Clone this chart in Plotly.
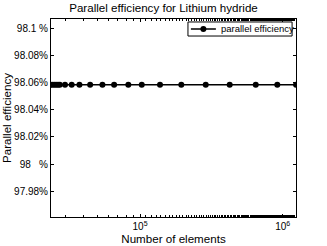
import plotly.graph_objects as go

# Data
num_elements = [23400, 24200, 25000, 25800, 26600, 27400, 29800, 33200, 37600, 44700,
                54500, 65800, 82800, 102800, 138000, 194600, 288600, 425000, 647000,
                916000, 1240000]
efficiency = [98.0585] * len(num_elements)
series_name = "parallel efficiency"

y_tick_vals = [97.98, 98.0, 98.02, 98.04, 98.06, 98.08, 98.1]
y_tick_text = ["97.98%", "98   %", "98.02%", "98.04%", "98.06%", "98.08%", "98.1 %"]
x_tick_vals = [1e5, 1e6]
x_tick_text = ["10<sup>5</sup>", "10<sup>6</sup>"]

font = "Liberation Sans, Arial, sans-serif"

fig = go.Figure()
fig.add_trace(go.Scatter(
    x=num_elements, y=efficiency, mode="lines+markers",
    name=series_name, showlegend=False,
    line=dict(color="black", width=1.5),
    marker=dict(color="black", size=6, symbol="circle"),
))

# Compact MATLAB-style legend box
lx0, lx1, ly0, ly1 = 0.559, 0.984, 0.914, 0.985
ly = (ly0 + ly1) / 2
shapes = [
    dict(type="rect", xref="paper", yref="paper", x0=lx0, x1=lx1, y0=ly0, y1=ly1,
         line=dict(color="black", width=1), fillcolor="white"),
    dict(type="line", xref="paper", yref="paper", x0=0.571, x1=0.673, y0=ly, y1=ly,
         line=dict(color="black", width=1.5)),
    dict(type="circle", xref="paper", yref="paper", x0=0.622 - 0.0122, x1=0.622 + 0.0122,
         y0=ly - 0.0152, y1=ly + 0.0152, line=dict(color="black", width=0), fillcolor="black"),
]
annotations = [
    dict(text=series_name, xref="paper", yref="paper", x=0.684, y=ly, xanchor="left",
         yanchor="middle", showarrow=False, font=dict(size=9.5, family=font)),
]

fig.update_layout(
    width=327, height=246,
    margin=dict(l=51, r=31, t=19, b=29, autoexpand=False),
    paper_bgcolor="white", plot_bgcolor="white",
    font=dict(family=font, size=10, color="black"),
    title=dict(text="Parallel efficiency for Lithium hydride", x=0.5, xanchor="center",
               y=0.967, yanchor="middle", font=dict(size=11.6, family=font)),
    showlegend=False,
    shapes=shapes, annotations=annotations,
)

fig.update_xaxes(
    type="log", range=[4.376, 6.093], automargin=False,
    tickvals=x_tick_vals, ticktext=x_tick_text,
    ticks="inside", ticklen=3, tickcolor="black",
    minor=dict(ticks="inside", ticklen=2, tickcolor="black", showgrid=False),
    showline=True, linecolor="black", linewidth=1, mirror="ticks",
    showgrid=False, zeroline=False,
    title=dict(text="Number of elements", font=dict(size=11.6), standoff=3),
)
fig.update_yaxes(
    range=[97.961, 98.107], automargin=False,
    tickvals=y_tick_vals, ticktext=y_tick_text,
    ticks="inside", ticklen=3, tickcolor="black",
    showline=True, linecolor="black", linewidth=1, mirror="ticks",
    showgrid=False, zeroline=False,
    title=dict(text="Parallel efficiency", font=dict(size=11.6), standoff=2),
)

fig.write_html("out.html", config={"displayModeBar": False},
               post_script="document.body.style.margin='0';")
